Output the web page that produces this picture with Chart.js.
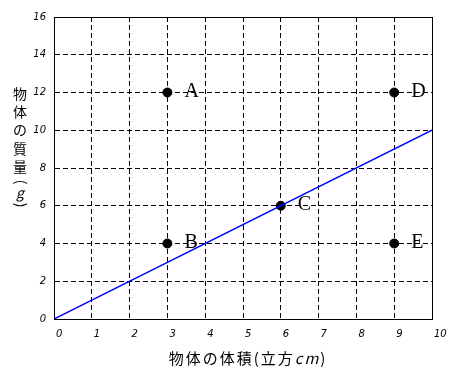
<!DOCTYPE html>
<html><head><meta charset="utf-8">
<script src="https://cdn.jsdelivr.net/npm/chart.js@4/dist/chart.umd.min.js"></script>
<style>html,body{margin:0;padding:0;background:#fff;}#wrap{width:457px;height:379px;position:relative;}</style>
</head><body><div id="wrap"><canvas id="c" width="457" height="379"></canvas></div>
<script>
const pointNames = ['A', 'B', 'C', 'D', 'E'];
const volumes = [3, 3, 6, 9, 9];
const masses = [12, 4, 6, 12, 4];
const lineVolumes = [0, 10];
const lineMasses = [0, 10];
const xTitleParts = [['物体の体積(立方', false], ['cm', true], [')', false]];
const yTitleChars = [['物', false, false], ['体', false, false], ['の', false, false], ['質', false, false], ['量', false, false], ['(', false, true], ['g', true, false], [')', false, true]];

const cjk = '"Noto Sans CJK JP", sans-serif';

const frame = {
  id: 'frame',
  afterDraw(chart) {
    const {ctx, chartArea: a, scales} = chart;
    ctx.save();
    ctx.strokeStyle = '#000'; ctx.lineWidth = 1; ctx.setLineDash([]);
    ctx.strokeRect(Math.round(a.left) + 0.5, Math.round(a.top) + 0.5, Math.round(a.right - a.left), Math.round(a.bottom - a.top));
    // point labels
    ctx.fillStyle = '#000';
    ctx.font = '20px "Liberation Serif", serif';
    ctx.textBaseline = 'middle'; ctx.textAlign = 'left';
    pointNames.forEach((n, i) => {
      const px = scales.x.getPixelForValue(volumes[i]);
      const py = scales.y.getPixelForValue(masses[i]);
      ctx.fillText(n, px + 17, py - 1);
    });
    // x title
    ctx.textBaseline = 'middle';
    let total = 0;
    const fonts = xTitleParts.map(p => (p[1] ? 'italic ' : '') + '15px ' + cjk);
    ctx.letterSpacing = '2px';
    xTitleParts.forEach((p, i) => { ctx.font = fonts[i]; total += ctx.measureText(p[0]).width; });
    let x = (a.left + a.right) / 2 + 5 - total / 2;
    xTitleParts.forEach((p, i) => { ctx.font = fonts[i]; ctx.fillText(p[0], x, 358); x += ctx.measureText(p[0]).width; });
    ctx.letterSpacing = '0px';
    // y title stacked
    ctx.textAlign = 'center';
    const ys = [94, 112, 130, 149, 167, 182, 193, 205];
    yTitleChars.forEach((c, i) => {
      ctx.font = (c[1] ? 'italic ' : '') + '14px ' + cjk;
      if (c[2]) {
        ctx.save();
        ctx.translate(21, ys[i]);
        ctx.rotate(Math.PI / 2);
        ctx.fillText(c[0], 0, 0);
        ctx.restore();
      } else {
        ctx.fillText(c[0], 20, ys[i]);
      }
    });
    ctx.restore();
  }
};

new Chart(document.getElementById('c'), {
  type: 'scatter',
  data: {
    datasets: [
      {
        type: 'line',
        data: lineVolumes.map((v, i) => ({x: v, y: lineMasses[i]})),
        borderColor: '#0000ff', borderWidth: 1.5, pointRadius: 0, fill: false, tension: 0
      },
      {
        data: volumes.map((v, i) => ({x: v, y: masses[i]})),
        backgroundColor: '#000', borderColor: '#000', pointRadius: 4.5, pointHoverRadius: 4.5
      }
    ]
  },
  options: {
    responsive: false, animation: false, devicePixelRatio: 1,
    layout: {padding: {top: 17, right: 25, left: 0, bottom: 0}},
    plugins: {legend: {display: false}, tooltip: {enabled: false}},
    scales: {
      x: {
        type: 'linear', min: 0, max: 10,
        afterFit: s => { s.height = 60; },
        ticks: {stepSize: 1, align: 'start', labelOffset: 2, padding: 9, color: '#000', font: {family: '"DejaVu Sans"', size: 10, style: 'italic'}},
        grid: {color: '#000', lineWidth: 1, drawTicks: false},
        border: {color: '#000', dash: [5, 3]}
      },
      y: {
        type: 'linear', min: 0, max: 16,
        afterFit: s => { s.width = 54; },
        ticks: {stepSize: 2, padding: 8, color: '#000', font: {family: '"DejaVu Sans"', size: 10, style: 'italic'}},
        grid: {color: '#000', lineWidth: 1, drawTicks: false},
        border: {color: '#000', dash: [5, 3]}
      }
    }
  },
  plugins: [frame]
});
</script></body></html>
